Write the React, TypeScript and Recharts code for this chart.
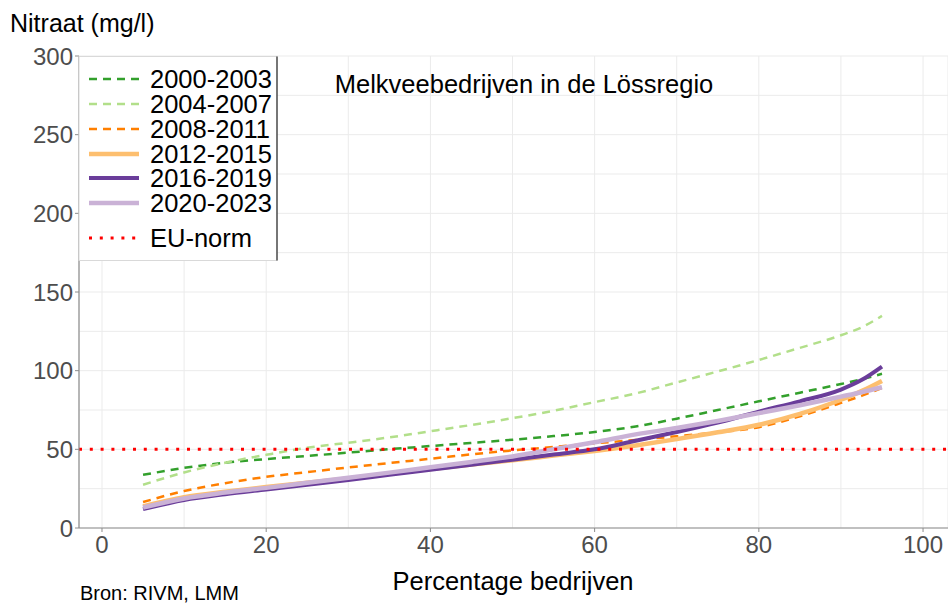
import React from "react";
import { CartesianGrid, Line, LineChart, ReferenceLine, XAxis, YAxis } from "recharts";

// percentiles of farms (x) and nitrate (mg/l) per period
const PCT = [5, 10, 15, 20, 25, 30, 35, 40, 45, 50, 55, 60, 65, 70, 75, 80, 85, 90, 92.5, 95];
const P2000 = [33.8, 38.2, 41.5, 43.8, 45.8, 47.9, 50.1, 52.1, 54.1, 56.1, 58.4, 61, 64.5, 69.5, 75, 80.5, 86, 91.5, 94.5, 98];
const P2004 = [27.5, 35.3, 41.5, 46.5, 51, 54.2, 57.6, 61.5, 65.5, 69.8, 74.5, 80, 85.5, 92.5, 99.5, 106.8, 114.5, 122.5, 127.5, 134.8];
const P2008 = [16.5, 23.5, 28.5, 32.5, 35.5, 38.5, 41.3, 44, 46.8, 49.3, 51.5, 53.8, 56, 58.3, 60.8, 64.1, 71, 79.5, 84, 89];
const P2012 = [13.7, 19.5, 23, 26, 28.8, 31.5, 34.5, 37.5, 40.3, 43, 46, 49, 52.5, 56.5, 60.8, 65.6, 72.5, 81.5, 87, 93.5];
const P2016 = [12, 17.8, 21.5, 24.5, 27.5, 30.5, 33.8, 37, 40.2, 43.4, 46.7, 50, 55.5, 61, 67, 74, 80.5, 88, 94, 102.6];
const P2020 = [13, 18.8, 22.5, 25.5, 28.7, 31.9, 35.2, 38.6, 42, 45.5, 50, 54.5, 59.5, 63.5, 68, 73, 78, 83.5, 86.3, 89.5];
const EU_NORM = 50;

const X_TICKS = [0, 10, 20, 30, 40, 50, 60, 70, 80, 90, 100];
const Y_TICKS = [0, 25, 50, 75, 100, 125, 150, 175, 200, 225, 250, 275, 300];

const FONT = "'Liberation Sans', Arial, sans-serif";
const AXIS = "#8c8c8c";

const SERIES = [
  { key: "p2000", name: "2000-2003", values: P2000, color: "#33a02c", width: 2.5, dash: "8 6" },
  { key: "p2004", name: "2004-2007", values: P2004, color: "#b2df8a", width: 2.5, dash: "8 6" },
  { key: "p2008", name: "2008-2011", values: P2008, color: "#ff7f00", width: 2.5, dash: "8 6" },
  { key: "p2012", name: "2012-2015", values: P2012, color: "#fdbf6f", width: 4.5, dash: undefined },
  { key: "p2016", name: "2016-2019", values: P2016, color: "#6a3d9a", width: 4, dash: undefined },
  { key: "p2020", name: "2020-2023", values: P2020, color: "#cab2d6", width: 4.5, dash: undefined },
];

const data = PCT.map((p, i) => {
  const row: Record<string, number> = { pct: p };
  SERIES.forEach((s) => (row[s.key] = s.values[i]));
  return row;
});

function XTick({ x, y, payload }: any) {
  const v = payload.value as number;
  if (v % 20 !== 0) return <g />;
  return (
    <g>
      <line x1={x} x2={x} y1={y} y2={y + 4} stroke={AXIS} strokeWidth={1} />
      <text x={x} y={y + 25} textAnchor="middle" fontSize={24} fill="#4d4d4d" fontFamily={FONT}>
        {v}
      </text>
    </g>
  );
}

function YTick({ x, y, payload }: any) {
  const v = payload.value as number;
  if (v % 50 !== 0) return <g />;
  return (
    <g>
      <line x1={x - 4} x2={x} y1={y} y2={y} stroke={AXIS} strokeWidth={1} />
      <text x={x - 6} y={y + 8.5} textAnchor="end" fontSize={24} fill="#4d4d4d" fontFamily={FONT}>
        {v}
      </text>
    </g>
  );
}

const LEGEND_ROWS = [79, 104, 129, 154, 178, 203];

export default function App() {
  return (
    <div style={{ position: "absolute", left: 0, top: 0, width: 948, height: 604, background: "#fff" }}>
      <LineChart width={948} height={604} data={data} margin={{ top: 56, right: 0, bottom: 0, left: 0 }}>
        <CartesianGrid stroke="#ebebeb" strokeWidth={1} />
        <XAxis
          dataKey="pct"
          type="number"
          domain={[-2.8, 103.04]}
          ticks={X_TICKS}
          allowDataOverflow
          height={76}
          tickSize={0}
          tickMargin={0}
          tickLine={false}
          axisLine={{ stroke: AXIS, strokeWidth: 1.2 }}
          tick={<XTick />}
          interval={0}
        />
        <YAxis
          type="number"
          domain={[0, 300]}
          ticks={Y_TICKS}
          width={79}
          tickSize={0}
          tickMargin={0}
          tickLine={false}
          axisLine={{ stroke: AXIS, strokeWidth: 1.2 }}
          tick={<YTick />}
          interval={0}
        />
        {SERIES.map((s) => (
          <Line
            key={s.key}
            dataKey={s.key}
            name={s.name}
            type="monotone"
            stroke={s.color}
            strokeWidth={s.width}
            strokeDasharray={s.dash}
            dot={false}
            isAnimationActive={false}
          />
        ))}
        <ReferenceLine y={EU_NORM} stroke="#ff0000" strokeWidth={3} strokeDasharray="3 7.8" />
      </LineChart>

      <svg width={948} height={604} style={{ position: "absolute", left: 0, top: 0, pointerEvents: "none" }}>
        <text x={10} y={32} fontSize={25} fill="#000" fontFamily={FONT}>
          Nitraat (mg/l)
        </text>
        <text x={524} y={93} textAnchor="middle" fontSize={25.5} fill="#000" fontFamily={FONT}>
          Melkveebedrijven in de Lössregio
        </text>
        <text x={513} y={590} textAnchor="middle" fontSize={25.5} fill="#000" fontFamily={FONT}>
          Percentage bedrijven
        </text>
        <text x={80} y={600} fontSize={20} fill="#000" fontFamily={FONT}>
          Bron: RIVM, LMM
        </text>

        <rect x={79} y={56.5} width={198} height={204} fill="#fff" stroke="#d9d9d9" strokeWidth={1} />
        <line x1={277} x2={277} y1={56.5} y2={260.5} stroke="#000" strokeWidth={1} />
        {SERIES.map((s, i) => (
          <g key={s.key}>
            <line
              x1={89}
              x2={139}
              y1={LEGEND_ROWS[i]}
              y2={LEGEND_ROWS[i]}
              stroke={s.color}
              strokeWidth={s.width}
              strokeDasharray={s.dash}
            />
            <text x={150} y={LEGEND_ROWS[i] + 9} fontSize={25.5} fill="#000" fontFamily={FONT}>
              {s.name}
            </text>
          </g>
        ))}
        <line x1={89} x2={139} y1={238} y2={238} stroke="#ff0000" strokeWidth={3} strokeDasharray="3 7.8" />
        <text x={150} y={247} fontSize={25.5} fill="#000" fontFamily={FONT}>
          EU-norm
        </text>
      </svg>
    </div>
  );
}
